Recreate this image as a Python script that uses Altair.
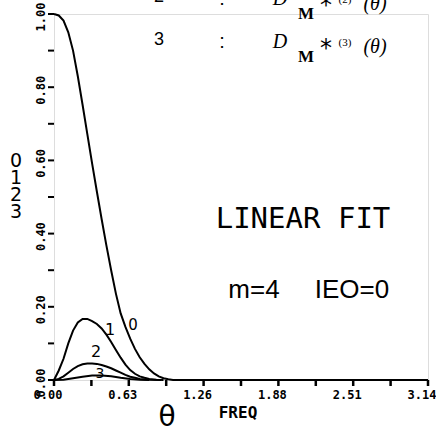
import altair as alt
import pandas as pd

# ---- data ----
theta0 = [0.00, 0.04, 0.08, 0.12, 0.16, 0.20, 0.24, 0.28, 0.32, 0.36, 0.40, 0.44, 0.48,
          0.52, 0.56, 0.60, 0.64, 0.68, 0.72, 0.76, 0.80, 0.84, 0.88, 0.92, 0.96, 1.00, 3.1416]
d0 = [1.000, 0.996, 0.982, 0.950, 0.900, 0.830, 0.752, 0.672, 0.592, 0.515, 0.440, 0.368, 0.300,
      0.236, 0.182, 0.145, 0.113, 0.085, 0.062, 0.044, 0.029, 0.018, 0.010, 0.005, 0.002, 0.000, 0.000]

theta1 = [0.00, 0.04, 0.08, 0.12, 0.16, 0.20, 0.24, 0.28, 0.32, 0.36, 0.40, 0.44, 0.48,
          0.52, 0.56, 0.60, 0.64, 0.68, 0.72, 0.76, 0.80, 0.86, 0.92]
d1 = [0.000, 0.026, 0.058, 0.100, 0.135, 0.157, 0.167, 0.167, 0.161, 0.153, 0.141, 0.124, 0.104,
      0.082, 0.061, 0.042, 0.027, 0.017, 0.010, 0.006, 0.003, 0.001, 0.000]

theta2 = [0.00, 0.04, 0.08, 0.12, 0.16, 0.20, 0.24, 0.28, 0.32, 0.36, 0.40, 0.44, 0.48,
          0.52, 0.56, 0.60, 0.64, 0.68, 0.72, 0.80, 0.90]
d2 = [0.000, 0.003, 0.010, 0.020, 0.030, 0.038, 0.043, 0.045, 0.045, 0.044, 0.041, 0.037, 0.032,
      0.026, 0.020, 0.014, 0.009, 0.006, 0.003, 0.001, 0.000]

theta3 = [0.00, 0.08, 0.16, 0.24, 0.32, 0.40, 0.48, 0.56, 0.64, 0.72, 0.80]
d3 = [0.000, 0.001, 0.005, 0.009, 0.012, 0.012, 0.010, 0.006, 0.003, 0.001, 0.000]

x_ticks = [0.0, 0.31416, 0.62832, 0.94248, 1.25664, 1.5708, 1.88496, 2.19911, 2.51327, 2.82743, 3.14159]
y_ticks = [0.0, 0.1, 0.2, 0.3, 0.4, 0.5, 0.6, 0.7, 0.8, 0.9, 1.0]
x_label_vals = [0.0, 0.62832, 1.25664, 1.88496, 2.51327, 3.14159]
x_labels = ["0.00", "0.63", "1.26", "1.88", "2.51", "3.14"]
y_label_vals = [0.0, 0.2, 0.4, 0.6, 0.8, 1.0]
y_labels = ["0.00", "0.20", "0.40", "0.60", "0.80", "1.00"]
legend_digits = ["0", "1", "2", "3"]

rows = []
for cid, (th, dv) in enumerate([(theta0, d0), (theta1, d1), (theta2, d2), (theta3, d3)]):
    for t, v in zip(th, dv):
        rows.append({"theta": t, "value": v, "curve": str(cid)})
df = pd.DataFrame(rows)

LEFT, TOP = 54, 14
W, H = 374, 366

xscale = alt.Scale(domain=[0, 3.14159], nice=False, zero=False)
yscale = alt.Scale(domain=[0, 1], nice=False)

lines = alt.Chart(df).mark_line(color="black", strokeWidth=2, clip=False).encode(
    x=alt.X("theta:Q", scale=xscale,
            axis=alt.Axis(values=x_ticks, title=None, grid=False, labels=False,
                          ticks=False, domain=True,
                          domainColor="black", domainWidth=2)),
    y=alt.Y("value:Q", scale=yscale,
            axis=alt.Axis(values=y_ticks, title=None, grid=False, labels=False,
                          ticks=False, domain=True,
                          domainColor="black", domainWidth=2)),
    detail="curve:N",
)

xtick = alt.Chart(pd.DataFrame({"v": x_ticks, "z": [0.0] * len(x_ticks)})).mark_rule(
    color="black", strokeWidth=2.5
).encode(x=alt.X("v:Q", scale=xscale, axis=None),
         y=alt.Y("z:Q", scale=yscale, axis=None), y2=alt.value(H + 6))
ytick = alt.Chart(pd.DataFrame({"v": y_ticks})).mark_rule(color="black", strokeWidth=2).encode(
    y=alt.Y("v:Q", scale=yscale, axis=None), x=alt.value(-6), x2=alt.value(0))

xlab = alt.Chart(pd.DataFrame({"v": x_label_vals, "t": x_labels})).mark_text(
    font="DejaVu Sans Mono", fontWeight="bold", fontSize=12, color="black",
    align="center", baseline="top", dx=-6, clip=False
).encode(x=alt.X("v:Q", scale=xscale, axis=None), y=alt.value(H + 10), text="t:N")

ylab = alt.Chart(pd.DataFrame({"v": y_label_vals, "t": y_labels})).mark_text(
    font="DejaVu Sans Mono", fontWeight="bold", fontSize=12, color="black",
    align="center", baseline="alphabetic", angle=270, dx=-3, clip=False
).encode(y=alt.Y("v:Q", scale=yscale, axis=None), x=alt.value(-9), text="t:N")

def txt(t, x, y, size, font="Liberation Sans", weight="normal", style="normal", align="center", lh=None):
    kw = {}
    if lh is not None:
        kw["lineHeight"] = lh
    return alt.Chart(alt.Data(values=[{"k": 0}])).mark_text(
        text=t, font=font, fontSize=size, fontWeight=weight, fontStyle=style,
        align=align, baseline="alphabetic", color="black", clip=False, **kw
    ).encode(x=alt.value(x - LEFT), y=alt.value(y - TOP))

annots = []
# top-right formula rows
for lab, sup, dy in [("2", "(2)", -43), ("3", "(3)", 0)]:
    annots += [
        txt(lab, 159, 45 + dy, 18),
        txt(":", 222, 48 + dy, 20),
        txt("D", 280, 48 + dy, 20, font="Liberation Serif", style="italic"),
        txt("M", 306, 62 + dy, 17, font="Liberation Serif", weight="bold"),
        txt("*", 326, 56 + dy, 24, font="DejaVu Sans"),
        txt(sup, 345, 46 + dy, 11, font="Liberation Serif"),
        txt("(θ)", 375, 53 + dy, 20, font="Liberation Serif", style="italic"),
    ]
# left legend digits (stacked)
annots.append(txt(legend_digits, 16, 167, 19, font="DejaVu Sans", lh=17))
# in-plot texts
annots += [
    txt("LINEAR FIT", 303, 228, 29, font="DejaVu Sans Mono"),
    txt("m=4", 254, 298, 26),
    txt("IEO=0", 352, 298, 26),
    txt("0", 133, 330, 15, font="DejaVu Sans"),
    txt("1", 110, 335, 16, font="DejaVu Sans"),
    txt("2", 96, 357, 16, font="DejaVu Sans"),
    txt("3", 100, 378, 14, font="DejaVu Sans"),
    txt("θ", 167, 426, 28, font="DejaVu Sans"),
    txt("FREQ", 238, 418, 16, font="DejaVu Sans Mono", weight="bold"),
]

chart = alt.layer(lines, xtick, ytick, xlab, ylab, *annots).properties(
    width=W, height=H,
    autosize=alt.AutoSizeParams(type="none"),
    padding={"left": LEFT, "top": TOP, "right": 436 - LEFT - W, "bottom": 429 - TOP - H},
).configure_view(stroke=None).configure(background="white")

chart.save("out.html", embed_options={"renderer": "svg", "actions": False})
